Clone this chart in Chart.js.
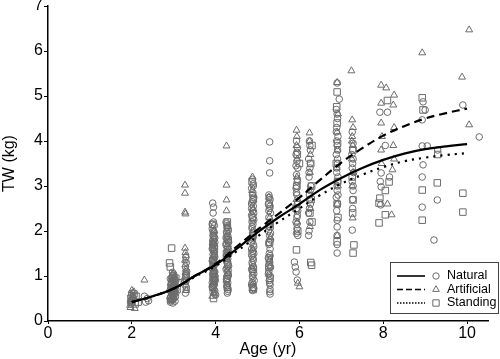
<!DOCTYPE html>
<html>
<head>
<meta charset="utf-8">
<script src="https://cdn.jsdelivr.net/npm/chart.js@4/dist/chart.umd.min.js"></script>
<style>
html,body{margin:0;padding:0;background:#fff;}
#wrap{position:relative;width:500px;height:359px;}
</style>
</head>
<body>
<div id="wrap"><canvas id="c" width="500" height="359"></canvas></div>
<script>
// ---- fitted curves (Age, TW) ----
const curveAge = [2,2.5,3,3.5,4,4.5,5,5.5,6,6.5,7,7.5,8,8.5,9,9.5,10];
const naturalFit = [0.42,0.55,0.72,1.0,1.25,1.6,1.97,2.3,2.6,2.92,3.18,3.4,3.58,3.72,3.82,3.88,3.93];
const artificialFit = [0.42,0.55,0.72,1.0,1.27,1.65,2.03,2.38,2.74,3.14,3.52,3.84,4.12,4.33,4.5,4.62,4.72];
const standingFit = [0.42,0.55,0.72,0.98,1.22,1.55,1.88,2.2,2.5,2.8,3.05,3.25,3.42,3.55,3.63,3.69,3.73];

// ---- observations [Age, TW] ----
const naturalObs = [
 [2.0,0.45],[2.02,0.55],[1.98,0.38],[2.0,0.62],[2.04,0.5],[1.97,0.42],[2.33,0.42],[2.37,0.5],[2.3,0.55],[2.4,0.45],
 [2.92,0.42],[2.95,0.48],[2.98,0.52],[3.0,0.56],[3.02,0.6],[2.94,0.64],[2.97,0.68],[3.01,0.72],[3.04,0.76],[2.93,0.8],
 [2.96,0.84],[2.99,0.88],[3.03,0.92],[2.95,0.96],[2.98,1.0],[3.0,1.04],[2.93,0.45],[2.97,0.58],[3.02,0.66],[3.05,0.7],
 [2.94,0.74],[2.99,0.62],[3.01,0.82],[2.96,0.9],[3.04,0.54],[2.92,0.7],[3.0,0.78],[2.98,0.4],
 [2.91,0.5],[2.94,0.55],[2.97,0.47],[3.0,0.5],[3.03,0.44],[2.96,0.6],[2.99,0.71],[3.02,0.8],[2.95,0.86],[3.05,0.62],
 [2.92,0.94],[3.01,0.98],[2.97,1.08],[3.04,0.86],[2.93,0.67],[3.0,0.66],
 [3.28,0.62],[3.3,0.7],[3.27,0.8],[3.3,0.9],[3.29,1.0],[3.31,1.1],[3.28,1.2],[3.3,1.3],[3.29,1.42],[3.3,0.75],[3.28,0.95],[3.3,1.05],
 [3.93,2.62],[3.95,2.53],[3.94,2.4],[3.95,2.2],[3.97,2.12],[3.92,2.05],[3.96,1.98],[3.94,1.9],[3.98,1.84],[3.93,1.78],
 [3.95,1.72],[3.97,1.66],[3.92,1.6],[3.96,1.54],[3.94,1.48],[3.98,1.42],[3.93,1.36],[3.95,1.3],[3.97,1.24],[3.92,1.18],
 [3.96,1.12],[3.94,1.06],[3.98,1.0],[3.93,0.94],[3.95,0.88],[3.97,0.82],[3.92,0.76],[3.96,0.7],[3.94,0.64],[3.98,0.6],
 [4.0,0.58],[3.95,1.95],[3.97,1.5],[3.93,1.15],[3.99,0.9],[3.95,1.7],[3.96,1.38],[3.94,0.8],
 [3.92,2.15],[3.94,2.0],[3.96,1.87],[3.98,1.75],[3.93,1.63],[3.95,1.57],[3.97,1.45],[3.92,1.33],[3.96,1.27],[3.94,1.21],
 [3.98,1.09],[3.93,1.03],[3.95,0.97],[3.97,0.91],[3.92,0.85],[3.96,0.79],[3.94,0.73],[3.98,0.67],[3.95,1.81],[3.93,1.69],
 [4.25,2.2],[4.28,2.12],[4.3,2.05],[4.26,1.98],[4.29,1.9],[4.27,1.82],[4.31,1.75],[4.25,1.68],[4.28,1.6],[4.3,1.52],
 [4.26,1.45],[4.29,1.38],[4.27,1.3],[4.31,1.22],[4.25,1.15],[4.28,1.08],[4.3,1.0],[4.26,0.92],[4.29,0.85],[4.27,0.78],
 [4.3,0.7],[4.28,0.62],[4.27,1.95],[4.29,1.65],[4.26,1.35],[4.3,1.12],[4.28,0.95],[4.25,1.85],[4.31,1.58],
 [4.26,2.16],[4.3,2.0],[4.27,1.88],[4.29,1.78],[4.25,1.72],[4.28,1.55],[4.31,1.48],[4.26,1.42],[4.29,1.26],[4.27,1.18],
 [4.3,1.04],[4.26,0.88],[4.28,0.74],[4.29,0.66],[4.27,2.08],
 [4.88,3.15],[4.9,3.05],[4.86,2.95],[4.89,2.85],[4.91,2.75],[4.87,2.65],[4.9,2.55],[4.88,2.45],[4.86,2.35],[4.91,2.25],
 [4.89,2.15],[4.87,2.05],[4.9,1.95],[4.88,1.85],[4.86,1.75],[4.91,1.65],[4.89,1.55],[4.87,1.45],[4.9,1.35],[4.88,1.25],
 [4.86,1.15],[4.91,1.05],[4.89,0.95],[4.87,0.85],[4.9,0.75],[4.88,0.68],[4.89,2.7],[4.87,2.2],[4.9,1.7],[4.88,1.1],[4.92,0.9],[4.86,2.5],
 [4.9,3.0],[4.88,2.8],[4.86,2.6],[4.91,2.4],[4.89,2.3],[4.87,2.1],[4.9,1.9],[4.88,1.8],[4.86,1.6],[4.91,1.5],
 [4.89,1.4],[4.87,1.3],[4.9,1.2],[4.88,1.0],[4.86,0.8],[4.91,0.72],
 [5.29,3.98],[5.29,3.56],[5.29,3.29],[5.27,2.8],[5.3,2.7],[5.26,2.6],[5.29,2.5],[5.31,2.4],[5.27,2.3],[5.3,2.2],
 [5.28,2.1],[5.26,2.0],[5.29,1.9],[5.31,1.8],[5.27,1.7],[5.3,1.6],[5.28,1.5],[5.26,1.4],[5.29,1.3],[5.31,1.2],
 [5.27,1.1],[5.3,1.0],[5.28,0.9],[5.3,0.8],[5.3,0.7],[5.3,0.6],[5.29,0.65],
 [5.28,2.75],[5.3,2.55],[5.27,2.45],[5.29,2.15],[5.31,1.95],[5.27,1.75],[5.3,1.45],[5.28,1.25],[5.26,1.05],[5.29,0.85],
 [5.93,4.0],[5.95,3.85],[5.92,3.7],[5.94,3.55],[5.96,3.4],[5.93,3.25],[5.95,3.1],[5.92,2.95],[5.94,2.8],[5.96,2.65],
 [5.93,2.5],[5.95,2.35],[5.92,2.2],[5.94,2.05],[5.96,1.9],[5.88,1.31],[5.9,1.2],[5.92,1.09],[5.95,0.91],[5.93,3.0],[5.95,2.6],[5.94,2.3],
 [5.94,3.75],[5.92,3.45],[5.95,3.15],[5.93,2.85],[5.96,2.45],[5.94,2.15],[5.93,1.95],
 [6.24,4.0],[6.26,3.8],[6.22,3.6],[6.25,3.4],[6.23,3.2],[6.27,3.0],[6.24,2.8],[6.26,2.6],[6.22,2.4],[6.25,2.2],[6.23,2.0],[6.26,3.5],[6.24,2.7],
 [6.25,3.9],[6.23,3.3],[6.26,2.9],[6.24,2.5],[6.22,1.9],
 [6.9,5.29],[6.95,4.93],[6.88,4.7],[6.91,4.5],[6.89,4.3],[6.92,4.1],[6.9,3.9],[6.88,3.7],[6.91,3.5],[6.89,3.3],
 [6.92,3.1],[6.9,2.9],[6.88,2.75],[6.91,2.6],[6.89,2.45],[6.9,2.24],[6.9,2.09],[6.9,1.9],[6.9,1.7],[6.9,1.51],[6.91,3.6],[6.89,4.0],[6.92,3.2],
 [6.9,4.6],[6.88,4.2],[6.91,3.8],[6.89,3.4],[6.9,3.0],[6.92,2.8],
 [7.26,4.2],[7.28,3.95],[7.25,3.7],[7.27,3.5],[7.29,3.3],[7.26,3.1],[7.28,2.9],[7.27,2.7],[7.26,2.02],[7.28,3.6],[7.27,2.5],
 [7.27,3.8],[7.26,3.4],[7.28,3.0],
 [7.92,4.64],[7.95,3.29],[7.93,3.1],[7.95,2.98],[7.94,2.58],[8.1,4.64],[8.05,3.9],[8.15,3.2],
 [8.95,4.87],[8.93,4.47],[8.93,3.89],[9.05,3.89],[8.95,3.47],[8.93,3.2],[8.93,2.53],[9.21,1.8],[9.29,2.69],[9.3,3.8],[9.0,4.69],
 [9.9,4.8],[10.29,4.09]
];
const artificialObs = [
 [1.97,0.3],[2.0,0.4],[2.02,0.5],[1.98,0.6],[2.05,0.65],[2.0,0.68],[1.96,0.35],[2.03,0.55],[2.3,0.91],[2.07,0.28],
 [2.95,0.45],[3.0,0.55],[2.97,0.65],[3.02,0.75],[2.94,0.85],[3.0,0.95],[2.98,1.05],
 [3.27,3.02],[3.27,2.84],[3.27,2.42],[3.28,2.38],[3.27,1.62],[3.28,1.52],[3.29,1.45],[3.27,1.35],[3.28,1.25],[3.29,1.15],[3.3,0.68],[3.28,1.08],
 [3.92,0.55],[3.95,0.62],[3.94,1.45],[3.96,1.1],[3.93,1.75],[3.97,2.0],[3.95,0.85],[3.94,1.3],
 [4.26,3.02],[4.26,2.69],[4.26,2.45],[4.26,3.89],[4.28,2.1],[4.29,1.7],[4.27,1.4],[4.3,1.05],[4.28,0.8],
 [4.88,3.2],[4.87,2.9],[4.9,2.5],[4.88,2.0],[4.89,1.6],[4.87,1.2],[4.9,0.85],
 [5.27,2.75],[5.29,2.3],[5.3,1.85],[5.28,1.35],[5.27,1.04],[5.3,1.2],
 [5.93,4.24],[5.94,4.1],[5.93,3.9],[5.95,3.6],[5.94,3.2],[5.93,2.7],[5.95,2.2],[6.0,0.76],[5.96,0.84],
 [6.24,4.18],[6.24,4.0],[6.26,3.7],[6.25,3.3],[6.23,2.9],[6.26,2.5],[6.25,2.1],
 [6.9,5.3],[6.92,4.6],[6.9,4.2],[6.91,3.8],[6.89,3.4],[6.92,3.0],[6.9,2.6],[6.9,1.9],
 [7.24,5.56],[7.26,4.47],[7.28,4.3],[7.26,4.1],[7.27,3.9],[7.25,3.6],[7.28,3.3],[7.26,3.0],[7.27,2.29],[7.25,4.0],
 [7.95,5.24],[8.07,5.18],[8.26,5.02],[7.95,4.84],[8.24,4.8],[7.95,4.4],[7.97,4.1],[7.95,3.8],[8.26,4.3],[8.24,3.9],
 [8.26,3.6],[8.22,3.36],[7.96,3.5],[8.2,2.36],[8.1,2.6],
 [8.93,5.96],
 [10.05,6.47],[9.88,5.42],[10.05,4.36]
];
const standingObs = [
 [2.0,0.45],[2.05,0.6],[2.1,0.55],[1.98,0.5],[2.15,0.42],[2.08,0.38],
 [2.95,1.62],[2.9,1.29],[2.92,1.2],[2.93,0.5],[2.97,0.62],[3.0,0.72],[2.95,0.82],[3.02,0.9],[2.98,1.0],[3.05,0.95],[3.1,0.85],[3.08,0.7],
 [3.3,1.0],[3.27,0.88],
 [3.95,0.5],[3.93,0.75],[3.96,1.05],[3.94,1.35],[3.97,1.6],[3.95,1.9],[3.93,2.15],[3.98,0.95],
 [4.28,2.2],[4.3,1.8],[4.26,1.5],[4.29,1.25],[4.27,0.95],[4.28,0.75],
 [4.87,3.1],[4.9,2.7],[4.88,2.3],[4.89,1.9],[4.87,1.5],[4.9,1.15],[4.88,0.75],[4.9,0.7],
 [5.28,2.6],[5.3,2.1],[5.29,1.75],[5.28,1.4],[5.27,1.2],[5.3,0.95],
 [5.93,1.58],[5.95,3.7],[5.94,3.0],[5.92,2.5],[5.96,2.0],[6.0,3.5],
 [6.29,1.24],[6.27,1.3],[6.3,2.2],[6.28,2.7],[6.29,3.0],[6.27,3.5],[6.3,3.9],[6.25,2.4],
 [6.9,5.09],[6.89,4.76],[6.9,4.4],[6.91,3.95],[6.88,3.5],[6.9,2.6],[6.92,2.3],[6.9,1.76],[6.91,3.1],
 [7.28,2.69],[7.27,2.4],[7.3,1.69],[7.28,1.51],[7.26,3.2],[7.28,3.8],
 [7.92,2.73],[7.9,2.62],[7.9,2.18],[8.05,2.36],[8.14,3.09],[8.1,4.9],[8.05,2.9],
 [8.93,4.96],[8.95,4.69],[8.93,2.91],[8.93,2.24],[9.29,3.07],[9.3,3.7],
 [9.9,2.84],[9.9,2.42]
];
const xTicks = [0,2,4,6,8,10];
const yTicks = [0,1,2,3,4,5,6,7];
const seriesNames = ['Natural','Artificial','Standing'];

const markerColor = '#6c6c6c';
const font = "'Liberation Sans', Arial, sans-serif";
const toPts = a => a.map(p => ({x:p[0], y:p[1]}));
const toCurve = ys => curveAge.map((x,i) => ({x, y:ys[i]}));

const scatterDs = (label, arr, style, r) => ({
  type:'scatter', label, data: toPts(arr), pointStyle: style, pointRadius: r,
  pointBorderColor: markerColor, pointBackgroundColor: 'rgba(0,0,0,0)', pointBorderWidth: 1,
  showLine:false, order: 2
});
const curveDs = (label, ys, dash) => ({
  type:'line', label, data: toCurve(ys), borderColor:'#000', borderWidth: 2.2,
  borderDash: dash, pointRadius: 0, tension: 0.4, fill:false, order: 0
});

const legendPlugin = {
  id:'customLegend',
  afterDraw(chart){
    const ctx = chart.ctx;
    const bx = 390, by = 262, bw = 108, bh = 51;
    ctx.save();
    ctx.fillStyle = '#fff';
    ctx.fillRect(bx, by, bw, bh);
    ctx.strokeStyle = '#444'; ctx.lineWidth = 1;
    ctx.strokeRect(bx+0.5, by+0.5, bw, bh);
    const rows = [276, 289.5, 303];
    const dashes = [[], [6,3], [1.5,1.5]];
    const styles = ['circle','triangle','rect'];
    const radii = [3.2, 3.8, 4.5];
    rows.forEach((y,i) => {
      ctx.strokeStyle = '#000'; ctx.lineWidth = 1.6;
      ctx.setLineDash(dashes[i]);
      ctx.beginPath(); ctx.moveTo(397, y); ctx.lineTo(425, y); ctx.stroke();
      ctx.setLineDash([]);
      ctx.strokeStyle = markerColor; ctx.lineWidth = 1;
      ctx.fillStyle = 'rgba(0,0,0,0)';
      Chart.helpers.drawPoint(ctx, {pointStyle: styles[i], radius: radii[i], borderWidth: 1}, 436, y);
      ctx.fillStyle = '#000';
      ctx.font = "12.5px " + font;
      ctx.textBaseline = 'middle'; ctx.textAlign = 'left';
      ctx.fillText(seriesNames[i], 447, y);
    });
    ctx.restore();
  }
};

new Chart(document.getElementById('c'), {
  data: {
    datasets: [
      scatterDs('Natural', naturalObs, 'circle', 3.3),
      scatterDs('Artificial', artificialObs, 'triangle', 4),
      scatterDs('Standing', standingObs, 'rect', 4.6),
      curveDs('Natural fit', naturalFit, []),
      curveDs('Artificial fit', artificialFit, [8,5]),
      curveDs('Standing fit', standingFit, [2.2,5])
    ]
  },
  options: {
    responsive:false, animation:false, devicePixelRatio:1,
    layout:{padding:{top:6, right:12, left:0, bottom:0}},
    plugins:{legend:{display:false}, tooltip:{enabled:false}},
    scales:{
      x:{
        type:'linear', position:'bottom', min:0, max:10.5,
        afterBuildTicks: s => { s.ticks = xTicks.map(v => ({value:v})); },
        afterFit: s => { s.height = 38; s.paddingLeft = 0; s.paddingRight = 0; },
        grid:{display:true, drawOnChartArea:false, drawTicks:true, tickLength:3, color:'#000', tickWidth:1},
        border:{display:true, color:'#000', width:1.5},
        ticks:{font:{family:font, size:16}, color:'#000', padding:0, maxRotation:0},
        title:{display:true, text:'Age (yr)', font:{family:font, size:16}, color:'#000', padding:{top:0,bottom:0}}
      },
      y:{
        type:'linear', min:0, max:7,
        afterBuildTicks: s => { s.ticks = yTicks.map(v => ({value:v})); },
        afterFit: s => { s.width = 48; s.paddingTop = 0; s.paddingBottom = 0; },
        grid:{display:true, drawOnChartArea:false, drawTicks:true, tickLength:4, color:'#000', tickWidth:1},
        border:{display:true, color:'#000', width:1.5},
        ticks:{font:{family:font, size:16}, color:'#000', padding:1},
        title:{display:true, text:'TW (kg)', font:{family:font, size:16}, color:'#000', padding:{top:0,bottom:0}}
      }
    }
  },
  plugins:[legendPlugin]
});
</script>
</body>
</html>
